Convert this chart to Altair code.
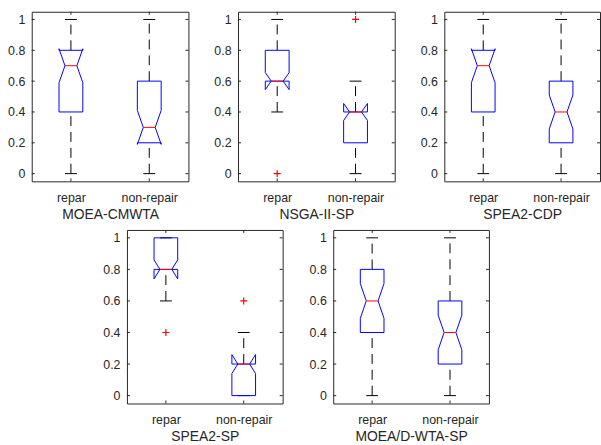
import altair as alt
import pandas as pd

# ---------------- data ----------------
panels = ["MOEA-CMWTA", "NSGA-II-SP", "SPEA2-CDP", "SPEA2-SP", "MOEA/D-WTA-SP"]
groups = ["repar", "non-repair"]

q1 = [[0.4, 0.2], [0.6, 0.2], [0.4, 0.2], [0.8, 0.0], [0.4, 0.2]]
q3 = [[0.8, 0.6], [0.8, 0.4], [0.8, 0.6], [1.0, 0.2], [0.8, 0.6]]
medians = [[0.7, 0.3], [0.6, 0.4], [0.7, 0.4], [0.8, 0.2], [0.6, 0.4]]
notch_lo = [[0.59, 0.19], [0.545, 0.345], [0.59, 0.29], [0.74, 0.14], [0.49, 0.29]]
notch_hi = [[0.81, 0.41], [0.655, 0.455], [0.81, 0.51], [0.86, 0.26], [0.71, 0.51]]
whisker_lo = [[0.0, 0.0], [0.4, 0.0], [0.0, 0.0], [0.6, 0.0], [0.0, 0.0]]
whisker_hi = [[1.0, 1.0], [1.0, 0.6], [1.0, 1.0], [1.0, 0.4], [1.0, 1.0]]

outlier_panel = ["NSGA-II-SP", "NSGA-II-SP", "SPEA2-SP", "SPEA2-SP"]
outlier_group = ["repar", "non-repair", "repar", "non-repair"]
outlier_value = [0.0, 1.0, 0.4, 0.6]

y_ticks = [0, 0.2, 0.4, 0.6, 0.8, 1.0]
x_ticks = [1, 2]

# ---------------- style ----------------
FONT = "Liberation Sans"
TXT = "#262626"
BOX_HW = 0.152     # half box width (x data units)
NOTCH_HW = 0.076   # half width at the notch / median
CAP_HW = 0.076     # half width of whisker caps
TICK_LEN = 3

label_expr = " : ".join(
    [f"datum.value == {i + 1} ? '{g}'" for i, g in enumerate(groups)]) + " : ''"


def panel_chart(pi, width, height):
    name = panels[pi]
    xscale = alt.Scale(domain=[0.5, 2.5], nice=False, zero=False)
    yscale = alt.Scale(domain=[-0.05, 1.05], nice=False, zero=False)
    xaxis = alt.Axis(values=x_ticks, labelExpr=label_expr, title=name,
                     grid=False, ticks=False, domain=False, labelPadding=10,
                     labelFontSize=12.5, titleFontSize=14, titleFontWeight="normal",
                     titlePadding=4, labelColor=TXT, titleColor=TXT, labelFont=FONT,
                     titleFont=FONT)
    yaxis = alt.Axis(values=y_ticks, format=".1~f", title=None, grid=False,
                     ticks=False, domain=False, labelPadding=7, labelFontSize=12.5,
                     labelColor=TXT, labelFont=FONT)

    def X(f):
        return alt.X(f, type="quantitative", scale=xscale, axis=xaxis)

    def Y(f):
        return alt.Y(f, type="quantitative", scale=yscale, axis=yaxis)

    box_rows, whisk_rows, cap_rows, med_rows = [], [], [], []
    for gi, g in enumerate(groups):
        c = gi + 1
        L, R = c - BOX_HW, c + BOX_HW
        IL, IR = c - NOTCH_HW, c + NOTCH_HW
        a, b, m = q1[pi][gi], q3[pi][gi], medians[pi][gi]
        nl, nh = notch_lo[pi][gi], notch_hi[pi][gi]
        xs = [L, L, IL, L, L, R, R, IR, R, R, L]
        ys = [a, nl, m, nh, b, b, nh, m, nl, a, a]
        for k, (xx, yy) in enumerate(zip(xs, ys)):
            box_rows.append({"group": g, "x": xx, "y": yy, "order": k})
        whisk_rows.append({"group": g, "x": c, "y": b, "y2": whisker_hi[pi][gi]})
        whisk_rows.append({"group": g, "x": c, "y": whisker_lo[pi][gi], "y2": a})
        cap_rows.append({"x": c - CAP_HW, "x2": c + CAP_HW, "y": whisker_hi[pi][gi]})
        cap_rows.append({"x": c - CAP_HW, "x2": c + CAP_HW, "y": whisker_lo[pi][gi]})
        med_rows.append({"x": IL, "x2": IR, "y": m})

    whiskers = alt.Chart(pd.DataFrame(whisk_rows)).mark_rule(
        color="black", strokeWidth=1, strokeDash=[10, 6]).encode(
        x=X("x"), y=Y("y"), y2="y2:Q")
    caps = alt.Chart(pd.DataFrame(cap_rows)).mark_rule(
        color="black", strokeWidth=1).encode(x=X("x"), x2="x2:Q", y=Y("y"))
    boxes = alt.Chart(pd.DataFrame(box_rows)).mark_line(
        color="#0000ff", strokeWidth=1).encode(
        x=X("x"), y=Y("y"), detail="group:N", order="order:Q")
    meds = alt.Chart(pd.DataFrame(med_rows)).mark_rule(
        color="#ff0000", strokeWidth=1).encode(x=X("x"), x2="x2:Q", y=Y("y"))

    layers = [whiskers, caps, boxes, meds]

    out = [{"x": groups.index(g) + 1, "y": v}
           for p, g, v in zip(outlier_panel, outlier_group, outlier_value) if p == name]
    if out:
        layers.append(alt.Chart(pd.DataFrame(out)).mark_point(
            shape="M-1,0H1M0,-1V1", size=49, filled=False, color="#ff0000",
            strokeWidth=1.2, opacity=1).encode(x=X("x"), y=Y("y")))

    ydf = pd.DataFrame({"t": y_ticks})
    xdf = pd.DataFrame({"t": x_ticks})
    layers.append(alt.Chart(ydf).mark_rule(color=TXT, strokeWidth=1).encode(
        y=Y("t"), x=alt.value(0), x2=alt.value(TICK_LEN)))
    layers.append(alt.Chart(ydf).mark_rule(color=TXT, strokeWidth=1).encode(
        y=Y("t"), x=alt.value(width - TICK_LEN), x2=alt.value(width)))
    layers.append(alt.Chart(xdf).mark_rule(color=TXT, strokeWidth=1).encode(
        x=X("t"), y=alt.value(0), y2=alt.value(TICK_LEN)))
    layers.append(alt.Chart(xdf).mark_rule(color=TXT, strokeWidth=1).encode(
        x=X("t"), y=alt.value(height - TICK_LEN), y2=alt.value(height)))

    return alt.layer(*layers).properties(width=width, height=height)


spacer = alt.Chart(pd.DataFrame({"a": [0]})).mark_point(opacity=0).encode(
    x=alt.X("a:Q", axis=None), y=alt.Y("a:Q", axis=None)
).properties(width=46, height=10, view=alt.ViewBackground(strokeOpacity=0))

top = alt.hconcat(panel_chart(0, 158, 171), panel_chart(1, 158, 171),
                  panel_chart(2, 157, 171), spacing=24)
bottom = alt.hconcat(spacer, panel_chart(3, 157, 175), panel_chart(4, 157, 175),
                     spacing=25)

chart = alt.vconcat(top, bottom, spacing=7).properties(
    padding={"left": 7, "top": 9, "right": 0, "bottom": 0}
).configure(font=FONT, background="white").configure_view(
    stroke=TXT, strokeWidth=1)

chart.save("out.html", embed_options={"renderer": "svg", "actions": False})
